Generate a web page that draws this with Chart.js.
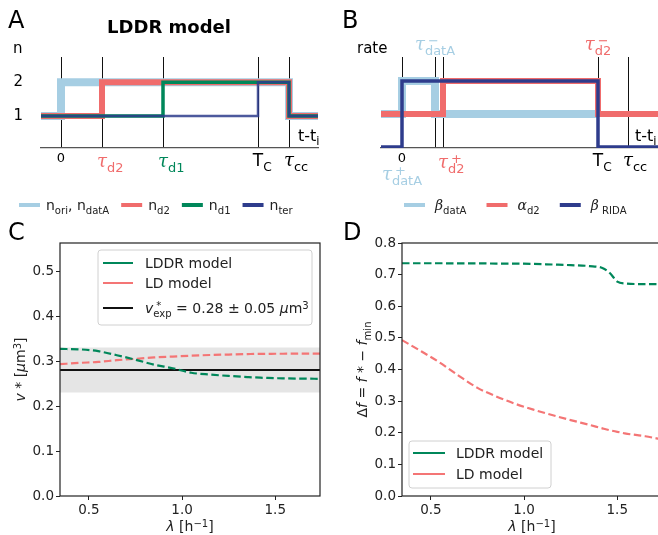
<!DOCTYPE html>
<html>
<head>
<meta charset="utf-8">
<title>LDDR model</title>
<script src="https://cdn.jsdelivr.net/npm/chart.js@4.4.1/dist/chart.umd.min.js"></script>
<style>
  body { margin: 0; background: #fff; }
  #wrap { position: relative; width: 658px; height: 535px; overflow: hidden; background: #fff; }
  #wrap canvas { position: absolute; }
</style>
</head>
<body>
<div id="wrap">
  <canvas id="chartA" width="330" height="215" style="left:0px;top:0px"></canvas>
  <canvas id="chartB" width="340" height="215" style="left:330px;top:0px"></canvas>
  <canvas id="chartC" width="330" height="320" style="left:0px;top:215px"></canvas>
  <canvas id="chartD" width="340" height="320" style="left:330px;top:215px"></canvas>
</div>
<script>
// panel A: copy numbers over the cell cycle (step functions)
const tA = [-0.1, 0, 0.205, 0.51, 0.985, 1.14, 1.285];
const nOri = [1, 2, 2, 2, 2, 1, 1];
const nD2 = [1, 1, 2, 2, 2, 1, 1];
const nD1 = [1, 1, 1, 2, 2, 1, 1];
const nTer = [1, 1, 1, 1, 2, 1, 1];
const tickA = [0, 0.205, 0.51, 0.985, 1.14]; // 0, tau_d2, tau_d1, T_C, tau_cc
const levelsA = [1, 2];

// panel B: rates over the cell cycle
const tB = [-0.105, 0, 0.165, 0.205, 0.98, 1.28];
const betaDatA = [1, 2, 1, 1, 1, null];
const alphaD2 = [1, 1, 1, 2, 1, 1];
const betaRida = [0, 2, 2, 2, 0, 0];
const tickB = [0, 0.165, 0.205, 0.98, 1.13]; // 0, tau_datA-, tau_d2+, T_C, tau_cc

// panels C and D: scan over growth rate lambda
const lambda = [0.345, 0.45, 0.55, 0.65, 0.75, 0.85, 0.95, 1.05, 1.15, 1.25, 1.35, 1.42, 1.46, 1.5, 1.54, 1.65, 1.74];
const vLDDR = [0.327, 0.326, 0.322, 0.313, 0.303, 0.292, 0.284, 0.274, 0.270, 0.267, 0.2645, 0.263, 0.2625, 0.262, 0.2615, 0.261, 0.2605];
const vLD = [0.293, 0.296, 0.298, 0.302, 0.305, 0.308, 0.310, 0.312, 0.3135, 0.3145, 0.3155, 0.316, 0.316, 0.3163, 0.3163, 0.3165, 0.3165];
const vExp = 0.28;
const vErr = 0.05;
const dfLDDR = [0.736, 0.736, 0.736, 0.7355, 0.7355, 0.735, 0.735, 0.734, 0.732, 0.730, 0.727, 0.721, 0.705, 0.678, 0.672, 0.670, 0.670];
const dfLD = [0.493, 0.457, 0.421, 0.380, 0.342, 0.315, 0.292, 0.273, 0.256, 0.240, 0.225, 0.214, 0.208, 0.203, 0.198, 0.189, 0.179];
const lamTicks = [0.5, 1.0, 1.5];
const vTicks = [0, 0.1, 0.2, 0.3, 0.4, 0.5];
const dfTicks = [0, 0.1, 0.2, 0.3, 0.4, 0.5, 0.6, 0.7, 0.8];

const LBLUE = '#a6cee3';
const RED = '#f06c6c';
const LDRED = '#f47575';
const GREEN = '#00875a';
const NAVY = '#2e3c8c';
const INK = '#222';

Chart.defaults.font.family = '"DejaVu Sans"';
Chart.defaults.plugins.legend.display = false;
Chart.defaults.plugins.tooltip.enabled = false;

// little helpers for text with sub/superscripts
const r = t => ({ t, f: 'r' });
const b = t => ({ t, f: 'b' });
const i = t => ({ t, f: 'i' });
const g = t => ({ t, f: 'g' });
const sb = t => ({ t, f: 'r', k: 'sub' });
const sp = t => ({ t, f: 'r', k: 'sup' });
const spo = t => ({ t, f: 'r', k: 'sup', adv: false, dx: 3 }); // stacked over the next sub

function rich(ctx, parts, x, y, o) {
  const size = o.size || 14;
  const items = parts.map(p => {
    const small = p.k === 'sub' || p.k === 'sup';
    const fs = small ? size * 0.72 : size;
    let font = fs + 'px "DejaVu Sans"';
    if (p.f === 'g') font = 'italic ' + fs + 'px "DejaVu Serif"';
    if (p.f === 'i') font = 'italic ' + fs + 'px "DejaVu Sans"';
    if (p.f === 'b') font = 'bold ' + fs + 'px "DejaVu Sans"';
    ctx.font = font;
    const w = ctx.measureText(p.t).width;
    const dy = p.k === 'sub' ? size * 0.28 : p.k === 'sup' ? -size * 0.3 : 0;
    return { p, font, w, dy, adv: p.adv === false ? 0 : w };
  });
  const total = items.reduce((s, it) => s + it.adv, 0);
  let cx = x;
  if (o.align === 'center') cx = x - total / 2;
  if (o.align === 'right') cx = x - total;
  if (o.align === 'first') cx = x - items[0].w / 2;
  ctx.save();
  ctx.textBaseline = 'alphabetic';
  ctx.textAlign = 'left';
  items.forEach(it => {
    ctx.font = it.font;
    ctx.fillStyle = it.p.c || o.color || '#000';
    ctx.fillText(it.p.t, cx + (it.p.dx || 0), y + it.dy);
    cx += it.adv;
  });
  ctx.restore();
  return total;
}

function richUp(ctx, parts, x, y, o) {
  ctx.save();
  ctx.translate(x, y);
  ctx.rotate(-Math.PI / 2);
  rich(ctx, parts, 0, (o.size || 14) * 0.36, Object.assign({}, o, { align: 'center' }));
  ctx.restore();
}

function legendRow(ctx, items, x, y, o) {
  items.forEach(it => {
    ctx.save();
    ctx.strokeStyle = it.color;
    ctx.lineWidth = o.lw;
    ctx.beginPath();
    ctx.moveTo(x, y);
    ctx.lineTo(x + o.len, y);
    ctx.stroke();
    ctx.restore();
    const w = rich(ctx, it.parts, x + o.len + o.gap, y + o.size * 0.36, { size: o.size, color: INK });
    x += o.len + o.gap + w + o.sep;
  });
}

function legendBox(ctx, items, bx, by, bw, bh, o) {
  const rad = 3;
  ctx.save();
  ctx.fillStyle = 'rgba(255,255,255,0.8)';
  ctx.strokeStyle = '#d0d0d0';
  ctx.lineWidth = 1;
  ctx.beginPath();
  ctx.moveTo(bx + rad, by);
  ctx.arcTo(bx + bw, by, bx + bw, by + bh, rad);
  ctx.arcTo(bx + bw, by + bh, bx, by + bh, rad);
  ctx.arcTo(bx, by + bh, bx, by, rad);
  ctx.arcTo(bx, by, bx + bw, by, rad);
  ctx.closePath();
  ctx.fill();
  ctx.stroke();
  items.forEach(it => {
    ctx.strokeStyle = it.color;
    ctx.lineWidth = 2;
    ctx.beginPath();
    ctx.moveTo(o.x0, it.y);
    ctx.lineTo(o.x0 + o.len, it.y);
    ctx.stroke();
  });
  ctx.restore();
  items.forEach(it => rich(ctx, it.parts, o.tx, it.y + o.size * 0.36, { size: o.size, color: INK }));
}

function frame(chart) {
  const { ctx, chartArea: a } = chart;
  ctx.save();
  ctx.strokeStyle = INK;
  ctx.lineWidth = 1.2;
  ctx.strokeRect(a.left, a.top, a.right - a.left, a.bottom - a.top);
  ctx.restore();
}

const pts = (xs, ys) => xs.map((x, k) => ({ x, y: ys[k] }));

function stepSet(xs, ys, color, width, order) {
  return { data: pts(xs, ys), borderColor: color, borderWidth: width, stepped: 'before',
    order, pointRadius: 0, fill: false };
}

function curveSet(ys, color, dashed, order) {
  return { data: pts(lambda, ys), borderColor: color, borderWidth: 2.2, borderDash: dashed ? [7.5, 3.5] : [],
    cubicInterpolationMode: 'monotone', order, pointRadius: 0, fill: false };
}

function stepOptions(xs, ticks, ymin, ymax, leftW, yTicks) {
  return {
    responsive: false, animation: false, devicePixelRatio: 1,
    layout: { padding: { top: 57, right: 12, left: 0, bottom: 0 } },
    scales: {
      x: { type: 'linear', min: xs[0], max: xs[xs.length - 1],
        afterBuildTicks: s => { s.ticks = ticks.map(v => ({ value: v })); },
        afterFit: s => { s.height = 67; },
        ticks: { display: false },
        grid: { color: '#111', lineWidth: 1, drawTicks: false },
        border: { color: '#555', width: 1.2 } },
      y: { type: 'linear', min: ymin, max: ymax,
        afterBuildTicks: s => { s.ticks = yTicks.map(v => ({ value: v })); },
        afterFit: s => { s.width = leftW; },
        ticks: { display: yTicks.length > 0, color: '#000', font: { size: 15 }, padding: 18 },
        grid: { display: false, drawTicks: false },
        border: { display: false } }
    }
  };
}

function scanOptions(yMax, yTicks, leftW, padRight) {
  return {
    responsive: false, animation: false, devicePixelRatio: 1,
    layout: { padding: { top: 28, right: padRight, left: 0, bottom: 0 } },
    scales: {
      x: { type: 'linear', min: lambda[0], max: lambda[lambda.length - 1],
        afterBuildTicks: s => { s.ticks = lamTicks.map(v => ({ value: v })); },
        afterFit: s => { s.height = 39; },
        ticks: { color: INK, font: { size: 13.5 }, padding: 2, maxRotation: 0, callback: v => v.toFixed(1) },
        grid: { drawOnChartArea: false, drawTicks: true, tickLength: 4, color: INK },
        border: { display: false } },
      y: { type: 'linear', min: 0, max: yMax,
        afterBuildTicks: s => { s.ticks = yTicks.map(v => ({ value: v })); },
        afterFit: s => { s.width = leftW; },
        ticks: { color: INK, font: { size: 13.5 }, padding: 2, callback: v => v.toFixed(1) },
        grid: { drawOnChartArea: false, drawTicks: true, tickLength: 4, color: INK },
        border: { display: false } }
    }
  };
}

// ---------- A ----------
const labelsA = [
  { parts: [r('0')], size: 13, y: 162, align: 'center', color: '#000' },
  { parts: [g('τ'), sb('d2')], size: 18, y: 167, align: 'first', color: RED },
  { parts: [g('τ'), sb('d1')], size: 18, y: 167, align: 'first', color: GREEN },
  { parts: [r('T'), sb('C')], size: 17, y: 166, align: 'first', color: '#000' },
  { parts: [g('τ'), sb('cc')], size: 18, y: 166, align: 'first', color: '#000' }
];
const legendA = [
  { color: LBLUE, parts: [r('n'), sb('ori'), r(', n'), sb('datA')] },
  { color: RED, parts: [r('n'), sb('d2')] },
  { color: GREEN, parts: [r('n'), sb('d1')] },
  { color: NAVY, parts: [r('n'), sb('ter')] }
];

new Chart(document.getElementById('chartA'), {
  type: 'line',
  data: { datasets: [
    stepSet(tA, nTer, 'rgba(46,60,140,0.85)', 2.5, 0),
    stepSet(tA, nD1, GREEN, 3.5, 1),
    stepSet(tA, nD2, RED, 6, 2),
    stepSet(tA, nOri, LBLUE, 8, 3)
  ] },
  options: stepOptions(tA, tickA, 0.06, 2.74, 41, levelsA),
  plugins: [{ id: 'decoA', afterDraw(chart) {
    const ctx = chart.ctx, xs = chart.scales.x;
    rich(ctx, [r('A')], 8, 28, { size: 24, color: '#000' });
    rich(ctx, [b('LDDR model')], 169, 33, { size: 18, align: 'center', color: '#000' });
    rich(ctx, [r('n')], 13, 53, { size: 15, color: '#000' });
    rich(ctx, [r('t-t'), sb('i')], 298, 141, { size: 16, color: '#000' });
    labelsA.forEach((lab, k) => rich(ctx, lab.parts, xs.getPixelForValue(tickA[k]), lab.y,
      { size: lab.size, align: lab.align, color: lab.color }));
    legendRow(ctx, legendA, 19, 205, { len: 21, gap: 6, sep: 12, lw: 4, size: 14 });
  } }]
});

// ---------- B ----------
const labelsB = [
  { k: 0, parts: [r('0')], size: 13, y: 162, align: 'center', color: '#000' },
  { k: 0, parts: [g('τ'), spo('+'), sb('datA')], size: 18, y: 180, align: 'center', color: LBLUE },
  { k: 1, parts: [g('τ'), spo('−'), sb('datA')], size: 18, y: 50, align: 'center', color: LBLUE },
  { k: 2, parts: [g('τ'), spo('+'), sb('d2')], size: 18, y: 168, align: 'first', color: RED },
  { k: 3, parts: [g('τ'), spo('−'), sb('d2')], size: 18, y: 50, align: 'center', color: RED },
  { k: 3, parts: [r('T'), sb('C')], size: 17, y: 166, align: 'first', color: '#000' },
  { k: 4, parts: [g('τ'), sb('cc')], size: 18, y: 166, align: 'first', color: '#000' }
];
const legendB = [
  { color: LBLUE, parts: [g('β'), sb('datA')] },
  { color: RED, parts: [g('α'), sb('d2')] },
  { color: NAVY, parts: [g('β'), sb(' RIDA')] }
];

new Chart(document.getElementById('chartB'), {
  type: 'line',
  data: { datasets: [
    stepSet(tB, betaRida, NAVY, 3.5, 0),
    stepSet(tB, alphaD2, RED, 6, 1),
    stepSet(tB, betaDatA, LBLUE, 8, 2)
  ] },
  options: stepOptions(tB, tickB, -0.03, 2.73, 51, []),
  plugins: [{ id: 'decoB', afterDraw(chart) {
    const ctx = chart.ctx, xs = chart.scales.x;
    rich(ctx, [r('B')], 12, 28, { size: 24, color: '#000' });
    rich(ctx, [r('rate')], 27, 53, { size: 15, color: '#000' });
    rich(ctx, [r('t-t'), sb('i')], 305, 141, { size: 16, color: '#000' });
    labelsB.forEach(lab => rich(ctx, lab.parts, xs.getPixelForValue(tickB[lab.k]), lab.y,
      { size: lab.size, align: lab.align, color: lab.color }));
    legendRow(ctx, legendB, 74, 205, { len: 21, gap: 10, sep: 20, lw: 4, size: 14 });
  } }]
});

// ---------- C ----------
const lamTitle = [i('λ'), r(' [h'), sp('−1'), r(']')];

new Chart(document.getElementById('chartC'), {
  type: 'line',
  data: { datasets: [
    curveSet(vLDDR, GREEN, true, 0),
    curveSet(vLD, LDRED, true, 1),
    { data: pts([lambda[0], lambda[lambda.length - 1]], [vExp, vExp]), borderColor: '#111', borderWidth: 2,
      order: 2, pointRadius: 0, fill: false },
    { data: pts([lambda[0], lambda[lambda.length - 1]], [vExp + vErr, vExp + vErr]), borderWidth: 0,
      backgroundColor: '#e5e5e5', fill: { value: vExp - vErr }, order: 3, pointRadius: 0 }
  ] },
  options: scanOptions(0.5625, vTicks, 60, 10),
  plugins: [{ id: 'decoC', afterDraw(chart) {
    const ctx = chart.ctx, a = chart.chartArea;
    frame(chart);
    rich(ctx, [r('C')], 8, 25, { size: 24, color: '#000' });
    richUp(ctx, [i('v'), r(' * ['), i('μ'), r('m'), sp('3'), r(']')], 20, (a.top + a.bottom) / 2, { size: 14, color: INK });
    rich(ctx, lamTitle, (a.left + a.right) / 2, 316, { size: 14, align: 'center', color: INK });
    legendBox(ctx, [
      { color: GREEN, y: 48, parts: [r('LDDR model')] },
      { color: LDRED, y: 68, parts: [r('LD model')] },
      { color: '#111', y: 93, parts: [i('v'), spo('*'), sb('exp'), r(' = 0.28 ± 0.05 '), i('μ'), r('m'), sp('3')] }
    ], 98, 35, 214, 75, { x0: 103, len: 30, tx: 145, size: 14 });
  } }]
});

// ---------- D ----------
new Chart(document.getElementById('chartD'), {
  type: 'line',
  data: { datasets: [
    curveSet(dfLDDR, GREEN, true, 0),
    curveSet(dfLD, LDRED, true, 1)
  ] },
  options: scanOptions(0.8, dfTicks, 72, 8),
  plugins: [{ id: 'decoD', afterDraw(chart) {
    const ctx = chart.ctx, a = chart.chartArea;
    frame(chart);
    rich(ctx, [r('D')], 13, 25, { size: 24, color: '#000' });
    richUp(ctx, [r('Δ'), i('f'), r(' = '), i('f'), r(' * − '), i('f'), sb('min')], 32, (a.top + a.bottom) / 2, { size: 14, color: INK });
    rich(ctx, lamTitle, (a.left + a.right) / 2, 316, { size: 14, align: 'center', color: INK });
    legendBox(ctx, [
      { color: GREEN, y: 238, parts: [r('LDDR model')] },
      { color: LDRED, y: 259, parts: [r('LD model')] }
    ], 79, 226, 142, 47, { x0: 83, len: 32, tx: 126, size: 14 });
  } }]
});
</script>
</body>
</html>
